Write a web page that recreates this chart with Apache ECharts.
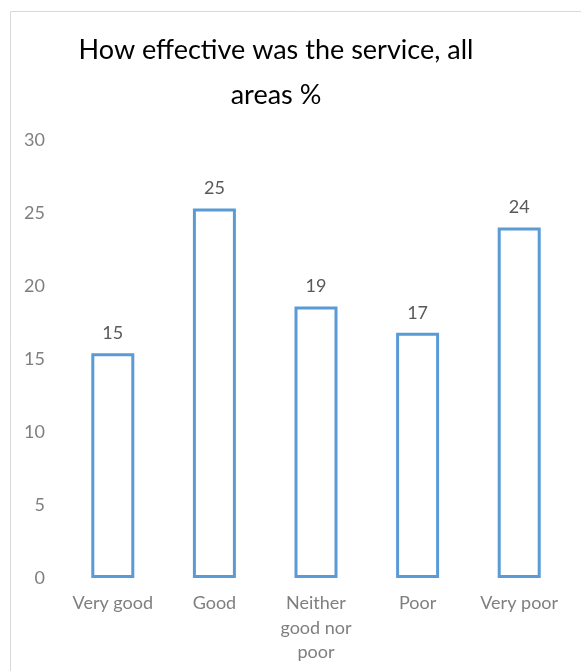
<!DOCTYPE html>
<html>
<head>
<meta charset="utf-8">
<script src="https://cdn.jsdelivr.net/npm/echarts@6/dist/echarts.min.js"></script>
<style>
html,body{margin:0;padding:0;background:#fff;}
#c{width:581px;height:671px;}
</style>
</head>
<body>
<div id="c"></div>
<script>
const titleText = "How effective was the service, all\nareas %";
const categories = ["Very good", "Good", "Neither\ngood nor\npoor", "Poor", "Very poor"];
const values = [15.4, 25.3, 18.6, 16.8, 24.0];
const yTicks = { min: 0, max: 30, interval: 5 };

const chart = echarts.init(document.getElementById('c'));
chart.setOption({
  animation: false,
  backgroundColor: '#fff',
  graphic: [{
    type: 'rect',
    shape: { x: 10.5, y: 11.5, width: 700, height: 800 },
    style: { fill: 'none', stroke: '#d9d9d9', lineWidth: 1 },
    silent: true
  }],
  title: {
    text: titleText,
    left: 271,
    top: 23,
    textAlign: 'center',
    textStyle: { fontFamily: 'Lato', fontWeight: 'normal', fontSize: 27, color: '#000', lineHeight: 45 }
  },
  grid: { left: 62, right: 11, top: 140, bottom: 93, containLabel: false },
  xAxis: {
    type: 'category',
    data: categories,
    axisLine: { show: false },
    axisTick: { show: false },
    axisLabel: { color: '#7f7f7f', fontFamily: 'Lato', fontSize: 18, lineHeight: 24.5, margin: 13, interval: 0 }
  },
  yAxis: {
    type: 'value',
    min: yTicks.min, max: yTicks.max, interval: yTicks.interval,
    splitLine: { show: false },
    axisLine: { show: false },
    axisTick: { show: false },
    axisLabel: { color: '#7f7f7f', fontFamily: 'Lato', fontSize: 18, margin: 17 }
  },
  series: [{
    type: 'bar',
    data: values,
    barWidth: 43,
    itemStyle: { color: '#ffffff', borderColor: '#5b9bd5', borderWidth: 3 },
    label: {
      show: true, position: 'top', distance: 11,
      color: '#595959', fontFamily: 'Lato', fontSize: 18,
      formatter: p => Math.round(p.value)
    }
  }]
});
</script>
</body>
</html>
